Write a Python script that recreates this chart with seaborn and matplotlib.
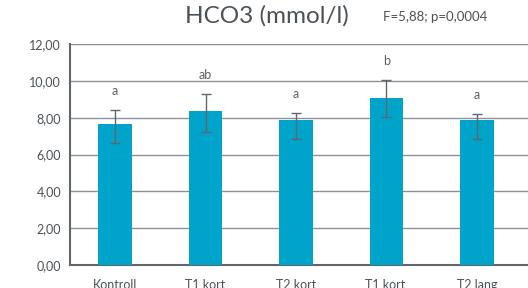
import matplotlib
matplotlib.use('Agg')
import matplotlib.pyplot as plt
import seaborn as sns
import pandas as pd
import numpy as np

groups = ['Kontroll', 'T1 kort', 'T2 kort', 'T1 kort ', 'T2 lang']
means = [7.65, 8.35, 7.85, 9.05, 7.85]
err_low = [6.65, 7.2, 6.85, 8.05, 6.85]
err_high = [8.4, 9.3, 8.25, 10.05, 8.2]
letters = ['a', 'ab', 'a', 'b', 'a']
yticks = [0, 2, 4, 6, 8, 10, 12]

sns.set_style('white')
plt.rcParams['font.family'] = ['Lato', 'DejaVu Sans']

df = pd.DataFrame({'group': groups, 'mean': means})

fig = plt.figure(figsize=(5.28, 2.88), dpi=100)
ax = fig.add_axes([70/528, 1-265/288, 1-70/528, 221/288])

sns.barplot(data=df, x='group', y='mean', color='#00a3c9', width=0.37,
            saturation=1, ax=ax, errorbar=None, linewidth=0, zorder=3)

x = np.arange(len(groups))
m = np.array(means)
ax.errorbar(x, m, yerr=[m - np.array(err_low), np.array(err_high) - m],
            fmt='none', ecolor='#5f666c', elinewidth=1, capsize=3.5, capthick=1, zorder=4)

for xi, hi, lab in zip(x, err_high, letters):
    ax.text(xi, hi + 0.7, lab, ha='center', va='bottom', fontsize=9, color='#5a6167')

ax.set_ylim(0, 12)
ax.set_xlim(-0.5, 4.566)
ax.set_yticks(yticks)
ax.set_yticklabels([f'{v:.2f}'.replace('.', ',') for v in yticks])
ax.yaxis.grid(True, color='#8b9196', linewidth=1, zorder=0)
ax.set_axisbelow(True)
ax.set_xlabel('')
ax.set_ylabel('')

ax.set_xticks(x)
ax.set_xticklabels(groups)
ax.set_xticks(np.arange(-0.5, 5, 1), minor=True)
ax.tick_params(axis='x', which='major', length=0, pad=10, labelsize=9, labelcolor='#4a5258')
ax.tick_params(axis='x', which='minor', length=6, width=1.5, color='#5f666c', direction='out')
ax.tick_params(axis='y', length=5, width=1, color='#5f666c', direction='inout',
               labelsize=9, labelcolor='#4a5258', pad=4)

for s in ['top', 'right']:
    ax.spines[s].set_visible(False)
for s in ['left', 'bottom']:
    ax.spines[s].set_color('#5f666c')
    ax.spines[s].set_linewidth(1.5)

fig.text(267/528, 1-16/288, 'HCO3 (mmol/l)', ha='center', va='center', fontsize=17.5, color='#4a5258')
fig.text(383/528, 1-17/288, 'F=5,88; p=0,0004', ha='left', va='center', fontsize=9.5, color='#4a5258')

fig.savefig('out.png', dpi=100)
